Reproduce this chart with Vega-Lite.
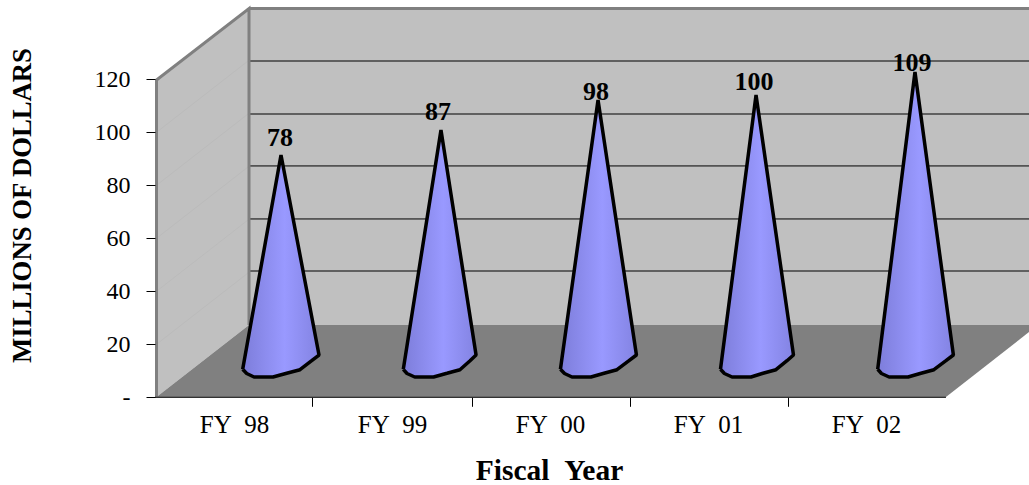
{
"$schema":"https://vega.github.io/schema/vega-lite/v6.json",
"width":1029,"height":485,"padding":0,"autosize":{"type":"none"},"background":"white",
"config":{"font":"Liberation Serif","view":{"stroke":null}},
"datasets":{
"back":[{"i":0,"x":59.5,"y":146.7},{"i":1,"x":553.16,"y":146.7},{"i":2,"x":553.16,"y":27.3},{"i":3,"x":59.5,"y":27.3},{"i":4,"x":59.5,"y":146.7}],
"side":[{"i":0,"x":0.95,"y":119.7},{"i":1,"x":59.5,"y":146.7},{"i":2,"x":59.5,"y":27.3},{"i":3,"x":0.95,"y":0.1},{"i":4,"x":0.95,"y":119.7}],
"floor":[{"i":0,"x":0.95,"y":0.1},{"i":1,"x":59.5,"y":27.3},{"i":2,"x":553.16,"y":27.3},{"i":3,"x":553.16,"y":24.6},{"i":4,"x":500.6,"y":0.1},{"i":5,"x":0.95,"y":0.1}],
"sidegrid":[{"k":20,"i":0,"x":0.95,"y":20},{"k":20,"i":1,"x":59.5,"y":47.2},{"k":40,"i":0,"x":0.95,"y":40},{"k":40,"i":1,"x":59.5,"y":67.2},{"k":60,"i":0,"x":0.95,"y":60},{"k":60,"i":1,"x":59.5,"y":87.2},{"k":80,"i":0,"x":0.95,"y":80},{"k":80,"i":1,"x":59.5,"y":107.2},{"k":100,"i":0,"x":0.95,"y":100},{"k":100,"i":1,"x":59.5,"y":127.2}],
"grid":[{"x":59.5,"x2":553.16,"y":47.66},{"x":59.5,"x2":553.16,"y":67.3},{"x":59.5,"x2":553.16,"y":87.3},{"x":59.5,"x2":553.16,"y":106.9},{"x":59.5,"x2":553.16,"y":126.9}],
"edges":[{"k":"a","i":0,"x":0.95,"y":0.1},{"k":"a","i":1,"x":0.95,"y":119.7},{"k":"a","i":2,"x":59.5,"y":146.7},{"k":"a","i":3,"x":59.5,"y":27.3},{"k":"b","i":0,"x":59.5,"y":146.7},{"k":"b","i":1,"x":553.16,"y":146.7}],
"baseline":[{"x":0,"x2":500.6,"y":0}],
"cones":[
{"fy":"FY 98","i":0,"x":55.5,"y":10.57},{"fy":"FY 98","i":1,"x":79.75,"y":91.43},{"fy":"FY 98","i":2,"x":103.8,"y":15.96},{"fy":"FY 98","i":3,"x":99.18,"y":13.81},{"fy":"FY 98","i":4,"x":91.77,"y":10.42},{"fy":"FY 98","i":5,"x":83.35,"y":9.06},{"fy":"FY 98","i":6,"x":74.68,"y":7.66},{"fy":"FY 98","i":7,"x":62.66,"y":7.66},{"fy":"FY 98","i":8,"x":58.04,"y":8.98},{"fy":"FY 98","i":9,"x":55.5,"y":10.57},
{"fy":"FY 99","i":0,"x":157.15,"y":10.57},{"fy":"FY 99","i":1,"x":181.0,"y":100.87},{"fy":"FY 99","i":2,"x":203.2,"y":15.96},{"fy":"FY 99","i":3,"x":199.4,"y":13.81},{"fy":"FY 99","i":4,"x":193.0,"y":10.42},{"fy":"FY 99","i":5,"x":184.8,"y":9.06},{"fy":"FY 99","i":6,"x":176.3,"y":7.66},{"fy":"FY 99","i":7,"x":164.4,"y":7.66},{"fy":"FY 99","i":8,"x":159.5,"y":8.98},{"fy":"FY 99","i":9,"x":157.15,"y":10.57},
{"fy":"FY 00","i":0,"x":256.6,"y":10.57},{"fy":"FY 00","i":1,"x":280.4,"y":112.19},{"fy":"FY 00","i":2,"x":304.7,"y":15.96},{"fy":"FY 00","i":3,"x":300.0,"y":13.81},{"fy":"FY 00","i":4,"x":292.4,"y":10.42},{"fy":"FY 00","i":5,"x":284.2,"y":9.06},{"fy":"FY 00","i":6,"x":275.9,"y":7.66},{"fy":"FY 00","i":7,"x":263.9,"y":7.66},{"fy":"FY 00","i":8,"x":259.2,"y":8.98},{"fy":"FY 00","i":9,"x":256.6,"y":10.57},
{"fy":"FY 01","i":0,"x":357.9,"y":10.57},{"fy":"FY 01","i":1,"x":380.4,"y":114.08},{"fy":"FY 01","i":2,"x":404.1,"y":15.96},{"fy":"FY 01","i":3,"x":400.0,"y":13.81},{"fy":"FY 01","i":4,"x":393.0,"y":10.42},{"fy":"FY 01","i":5,"x":384.8,"y":9.06},{"fy":"FY 01","i":6,"x":377.2,"y":7.66},{"fy":"FY 01","i":7,"x":365.2,"y":7.66},{"fy":"FY 01","i":8,"x":360.4,"y":8.98},{"fy":"FY 01","i":9,"x":357.9,"y":10.57},
{"fy":"FY 02","i":0,"x":457.4,"y":10.57},{"fy":"FY 02","i":1,"x":481.0,"y":122.75},{"fy":"FY 02","i":2,"x":505.3,"y":15.96},{"fy":"FY 02","i":3,"x":500.6,"y":13.81},{"fy":"FY 02","i":4,"x":493.0,"y":10.42},{"fy":"FY 02","i":5,"x":484.8,"y":9.06},{"fy":"FY 02","i":6,"x":476.6,"y":7.66},{"fy":"FY 02","i":7,"x":464.6,"y":7.66},{"fy":"FY 02","i":8,"x":459.8,"y":8.98},{"fy":"FY 02","i":9,"x":457.4,"y":10.57}
],
"labels":[{"fy":"FY 98","value":78,"x":50,"y":97.85},{"fy":"FY 99","value":87,"x":150,"y":107.66},{"fy":"FY 00","value":98,"x":250,"y":115.2},{"fy":"FY 01","value":100,"x":350,"y":119},{"fy":"FY 02","value":109,"x":450,"y":126.15}]
},
"encoding":{
"x":{"field":"x","type":"quantitative","scale":{"domain":[-98.1,553.16],"nice":false,"zero":false},
"axis":{"zindex":1,"offset":-87.7,"domain":false,"grid":false,"values":[50,99.2,150,200.5,250,300.6,350,400.6,450],
"labelExpr":"datum.value==50?'FY\u00a0\u00a098':datum.value==150?'FY\u00a0\u00a099':datum.value==250?'FY\u00a0\u00a000':datum.value==350?'FY\u00a0\u00a001':datum.value==450?'FY\u00a0\u00a002':''",
"labelFontSize":25,"labelColor":"#000000","labelOverlap":false,"labelBound":false,"labelFlush":false,"labelPadding":6,
"tickColor":"#000000","tickSize":9,"tickOpacity":{"expr":"datum.value==50||datum.value==150||datum.value==250||datum.value==350||datum.value==450?0:1"},
"title":"Fiscal\u00a0\u00a0Year","titleFontSize":29.5,"titleFontWeight":"bold","titleColor":"#000000","titleX":549,"titleY":73,"titleBaseline":"middle"}},
"y":{"field":"y","type":"quantitative","scale":{"domain":[-33.09,149.92],"nice":false,"zero":false},
"axis":{"zindex":1,"offset":-155,"domain":false,"grid":false,"values":[0,20,40,60,80,100,120],
"labelExpr":"datum.value==0?'-\u00a0\u00a0\u00a0\u00a0':datum.label",
"labelFontSize":24,"labelColor":"#000000","labelOverlap":false,"labelBound":false,"labelFlush":false,"labelPadding":16,
"tickColor":"#000000","tickSize":9,
"title":"MILLIONS OF DOLLARS","titleFontSize":26.7,"titleFontWeight":"bold","titleColor":"#000000","titleX":-133,"titleY":205,"titleBaseline":"middle"}}
},
"layer":[
{"data":{"name":"back"},"mark":{"type":"line","fill":"#c0c0c0","stroke":null,"strokeWidth":0},"encoding":{"order":{"field":"i"}}},
{"data":{"name":"side"},"mark":{"type":"line","fill":"#c0c0c0","stroke":null,"strokeWidth":0},"encoding":{"order":{"field":"i"}}},
{"data":{"name":"floor"},"mark":{"type":"line","fill":"#808080","stroke":null,"strokeWidth":0},"encoding":{"order":{"field":"i"}}},
{"data":{"name":"sidegrid"},"mark":{"type":"line","stroke":"#bbbbbb","strokeWidth":1},"encoding":{"detail":{"field":"k"},"order":{"field":"i"}}},
{"data":{"name":"grid"},"mark":{"type":"rule","stroke":"#000000","strokeWidth":1},"encoding":{"x2":{"field":"x2"}}},
{"data":{"name":"edges"},"mark":{"type":"line","stroke":"#808080","strokeWidth":3,"strokeJoin":"miter"},"encoding":{"detail":{"field":"k"},"order":{"field":"i"}}},
{"data":{"name":"baseline"},"mark":{"type":"rule","stroke":"#000000","strokeWidth":1},"encoding":{"x2":{"field":"x2"}}},
{"data":{"name":"cones"},"mark":{"type":"line","stroke":"#000000","strokeWidth":3.5,"strokeJoin":"bevel",
"fill":{"x1":0,"y1":0,"x2":1,"y2":0,"gradient":"linear","stops":[{"offset":0,"color":"#7d7dda"},{"offset":0.55,"color":"#9999ff"},{"offset":1,"color":"#8383e2"}]}},
"encoding":{"detail":{"field":"fy"},"order":{"field":"i"}}},
{"data":{"name":"labels"},"mark":{"type":"text","fontSize":26,"fontWeight":"bold","color":"#000000","dx":46,"baseline":"middle","align":"center"},"encoding":{"text":{"field":"value","type":"quantitative"}}}
]
}
